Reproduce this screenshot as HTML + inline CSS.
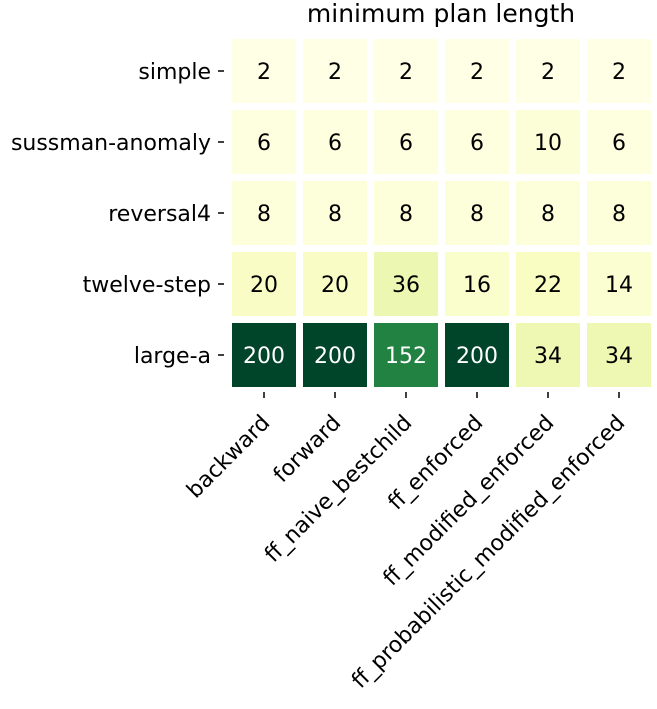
<!DOCTYPE html>
<html><head><meta charset="utf-8"><style>
body{margin:0;background:#fff;}
svg text{font-family:"DejaVu Sans","Liberation Sans",sans-serif;}
</style></head><body>
<svg id="chart" width="657" height="704">
<text x="441" y="22" font-size="25" text-anchor="middle">minimum plan length</text>
<g id="cells"></g><g id="ylab"></g><g id="xlab"></g>
</svg>
<script>
const rows=["simple","sussman-anomaly","reversal4","twelve-step","large-a"];
const cols=["backward","forward","ff_naive_bestchild","ff_enforced","ff_modified_enforced","ff_probabilistic_modified_enforced"];
const values=[[2,2,2,2,2,2],[6,6,6,6,10,6],[8,8,8,8,8,8],[20,20,36,16,22,14],[200,200,152,200,34,34]];
const vmin=2,vmax=200;
const stops=["#ffffe5","#f7fcb9","#d9f0a3","#addd8e","#78c679","#41ab5d","#238443","#006837","#004529"];
function hex(h){return [1,3,5].map(i=>parseInt(h.substr(i,2),16));}
function cmap(v){let t=Math.max(0,Math.min(1,(v-vmin)/(vmax-vmin)))*(stops.length-1);let i=Math.min(Math.floor(t),stops.length-2),f=t-i;const a=hex(stops[i]),b=hex(stops[i+1]);return "rgb("+a.map((c,k)=>Math.round(c+(b[k]-c)*f)).join(",")+")";}
const x0=228.5,y0=35.5,pitch=71,gap=3.5;
const xc=j=>x0+pitch*(j+0.5), yc=i=>y0+pitch*(i+0.5);
const NS="http://www.w3.org/2000/svg";
const gc=document.getElementById("cells"),gy=document.getElementById("ylab"),gx=document.getElementById("xlab");
function mk(tag,attrs,p){const e=document.createElementNS(NS,tag);for(const k in attrs)e.setAttribute(k,attrs[k]);p.appendChild(e);return e;}
values.forEach((row,i)=>row.forEach((v,j)=>{
 const r=mk("rect",{x:xc(j)-pitch/2+gap,y:yc(i)-pitch/2+gap,width:pitch-2*gap,height:pitch-2*gap,fill:cmap(v)},gc);
 
 
 const t=mk("text",{x:xc(j),y:yc(i)+8,"font-size":"22","text-anchor":"middle",fill:(v-vmin)/(vmax-vmin)>0.5?"#fff":"#000"},gc);
 t.textContent=v;
 
 
}));
rows.forEach((n,i)=>{
 mk("line",{x1:218,x2:224,y1:yc(i),y2:yc(i),stroke:"#000","stroke-width":1.5},gy);
 const t=mk("text",{x:211,y:yc(i)+8,"font-size":"22","text-anchor":"end"},gy);
 t.textContent=n;
 
 
});
cols.forEach((n,j)=>{
 mk("line",{x1:xc(j),x2:xc(j),y1:392,y2:398,stroke:"#000","stroke-width":1.5},gx);
 const px=xc(j)+7,py=424;
 const t=mk("text",{x:px,y:py,"font-size":"22","text-anchor":"end",transform:"rotate(-45 "+px+" "+py+")"},gx);
 t.textContent=n;
 
 
});
</script>
</body></html>
